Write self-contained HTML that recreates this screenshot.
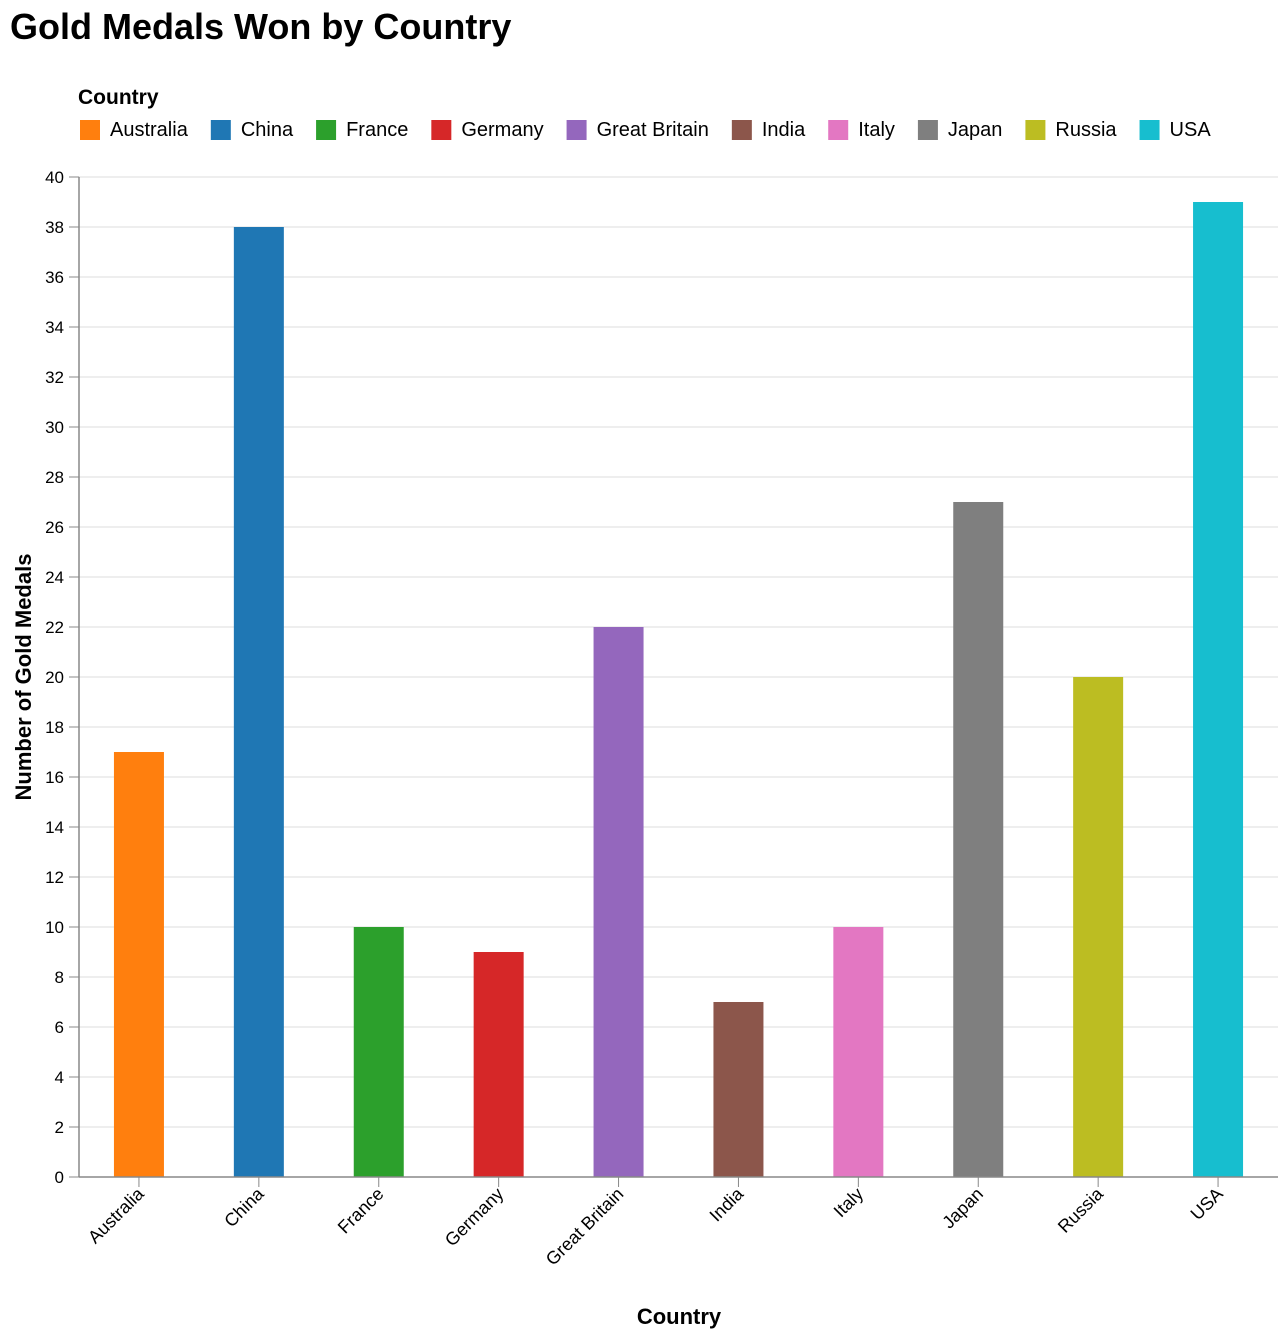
<!DOCTYPE html>
<html><head><meta charset="utf-8"><style>
body{margin:0;background:#fff;font-family:"Liberation Sans",Arial,sans-serif}
</style></head><body>
<svg id="chart" width="1288" height="1336" xmlns="http://www.w3.org/2000/svg" font-family="Liberation Sans, Arial, sans-serif">
<text x="10" y="39" font-size="36" font-weight="bold" fill="#000">Gold Medals Won by Country</text>
<text x="78" y="104" font-size="21" font-weight="bold" fill="#000">Country</text>
<g id="legend"></g>
<g id="grid"></g>
<g id="bars"></g>
<g id="axes"></g>
<text x="679" y="1324" font-size="22" font-weight="bold" text-anchor="middle">Country</text>
<text transform="translate(31,677) rotate(-90)" font-size="22" font-weight="bold" text-anchor="middle">Number of Gold Medals</text>
</svg>
<script>
const categories=["Australia","China","France","Germany","Great Britain","India","Italy","Japan","Russia","USA"];
const medals=[17,38,10,9,22,7,10,27,20,39];
const colors=["#ff7f0e","#1f77b4","#2ca02c","#d62728","#9467bd","#8c564b","#e377c2","#7f7f7f","#bcbd22","#17becf"];
const yTicks=[0,2,4,6,8,10,12,14,16,18,20,22,24,26,28,30,32,34,36,38,40];
const NS="http://www.w3.org/2000/svg";
const L=79,R=1278,T=177,B=1177,yMax=40;
const step=(R-L)/categories.length,bw=50;
const y=v=>B-(v/yMax)*(B-T);
const x=i=>L+step*(i+0.5);
function mk(tag,attrs,parent,txt){const e=document.createElementNS(NS,tag);for(const k in attrs)e.setAttribute(k,attrs[k]);if(txt!==undefined)e.textContent=txt;document.getElementById(parent).appendChild(e);return e;}
yTicks.forEach(t=>{
 const g=mk("line",{x1:L,x2:R,y1:y(t),y2:y(t),stroke:"#ddd","stroke-width":1},"grid");
 
 
 const tk=mk("line",{x1:L-10,x2:L,y1:y(t),y2:y(t),stroke:"#888"},"axes");
 
 
 const lb=mk("text",{x:L-15,y:y(t)+6,"font-size":17,"text-anchor":"end",fill:"#000"},"axes",String(t));
 
 
});
let lx=80;
categories.forEach((c,i)=>{
 const r=mk("rect",{x:x(i)-bw/2,y:y(medals[i]),width:bw,height:B-y(medals[i]),fill:colors[i]},"bars");
 
 
 const tk=mk("line",{x1:x(i),x2:x(i),y1:B,y2:B+10,stroke:"#888"},"axes");
 
 
 const lb=mk("text",{transform:`translate(${x(i)+6},${B+18}) rotate(-45)`,"font-size":18,"text-anchor":"end",fill:"#000"},"axes",c);
 
 
 const sq=mk("rect",{x:lx,y:120,width:20,height:20,fill:colors[i]},"legend");
 
 
 const lt=mk("text",{x:lx+30,y:136,"font-size":20,fill:"#000"},"legend",c);
 
 
 lx=lx+30+lt.getComputedTextLength()+23;
});
const ya=mk("line",{x1:L,x2:L,y1:T,y2:B,stroke:"#888","stroke-width":1.5},"axes");


const xa=mk("line",{x1:L,x2:R,y1:B,y2:B,stroke:"#888","stroke-width":1.5},"axes");


</script>
</body></html>
